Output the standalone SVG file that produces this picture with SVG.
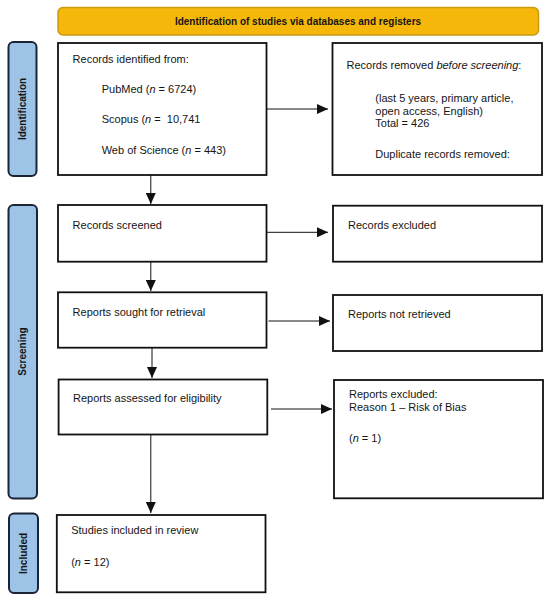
<svg xmlns="http://www.w3.org/2000/svg" width="550" height="600" viewBox="0 0 550 600">
<style>
text{font-family:"Liberation Sans",Arial,Helvetica,sans-serif;fill:#151515}
.t{font-size:11px}
.b{font-size:10px;font-weight:bold}
.box{fill:#fff;stroke:#111;stroke-width:1.8}
.side{fill:#9DC3E6;stroke:#1B2436;stroke-width:2}
.ban{fill:#F5B70A;stroke:#C99A12;stroke-width:1.5}
.c{stroke:#111;stroke-width:1;fill:none;marker-end:url(#ah)}
.i{font-style:italic}
</style>
<defs>
<marker id="ah" markerUnits="userSpaceOnUse" markerWidth="11" markerHeight="10" refX="11" refY="5" orient="auto">
<path d="M0,0 L11,5 L0,10 z" fill="#111"/>
</marker>
</defs>
<rect width="550" height="600" fill="#fff"/>
<g id="banner">
<rect class="ban" x="58" y="7.5" width="480.5" height="27.5" rx="5"/>
<text class="b" x="298" y="25" text-anchor="middle">Identification of studies via databases and registers</text>
</g>
<g id="phase-identification">
<rect class="side" x="8.5" y="42" width="28" height="134" rx="5"/>
<text class="b" transform="translate(26,109) rotate(-90)" text-anchor="middle">Identification</text>
</g>
<g id="phase-screening">
<rect class="side" x="8.5" y="205" width="28.5" height="293.5" rx="5"/>
<text class="b" transform="translate(26,351.5) rotate(-90)" text-anchor="middle">Screening</text>
</g>
<g id="phase-included">
<rect class="side" x="9" y="513.5" width="29" height="79.5" rx="5"/>
<text class="b" transform="translate(27,553.5) rotate(-90)" text-anchor="middle">Included</text>
</g>
<g id="records-identified">
<rect class="box" x="58" y="43" width="208.5" height="132"/>
<text class="t" x="72.6" y="63">Records identified from:</text>
<text class="t" x="101.7" y="93">PubMed (<tspan class="i">n</tspan> = 6724)</text>
<text class="t" x="101.7" y="123" xml:space="preserve">Scopus (<tspan class="i">n</tspan> =  10,741</text>
<text class="t" x="101.7" y="154">Web of Science (<tspan class="i">n</tspan> = 443)</text>
</g>
<g id="records-removed">
<rect class="box" x="332.5" y="43" width="209.5" height="132"/>
<text class="t" x="346.5" y="69">Records removed <tspan class="i">before screening</tspan>:</text>
<text class="t" x="375.3" y="102">(last 5 years, primary article,</text>
<text class="t" x="375.3" y="114.5">open access, English)</text>
<text class="t" x="375.3" y="127">Total = 426</text>
<text class="t" x="375.3" y="158">Duplicate records removed:</text>
</g>
<g id="records-screened">
<rect class="box" x="58" y="205" width="208.5" height="56.7"/>
<text class="t" x="72.6" y="229">Records screened</text>
</g>
<g id="records-excluded">
<rect class="box" x="333" y="205.7" width="209" height="56"/>
<text class="t" x="348" y="229">Records excluded</text>
</g>
<g id="reports-sought">
<rect class="box" x="58" y="292.3" width="208.5" height="55.4"/>
<text class="t" x="72.6" y="315.7">Reports sought for retrieval</text>
</g>
<g id="reports-not-retrieved">
<rect class="box" x="333" y="295" width="209" height="56"/>
<text class="t" x="348" y="318">Reports not retrieved</text>
</g>
<g id="reports-assessed">
<rect class="box" x="58.6" y="379.5" width="208.7" height="55"/>
<text class="t" x="73" y="402">Reports assessed for eligibility</text>
</g>
<g id="reports-excluded">
<rect class="box" x="334" y="380" width="209" height="118.3"/>
<text class="t" x="349" y="397.5">Reports excluded:</text>
<text class="t" x="349" y="411">Reason 1 – Risk of Bias</text>
<text class="t" x="349" y="441.5">(<tspan class="i">n</tspan> = 1)</text>
</g>
<g id="studies-included">
<rect class="box" x="56.8" y="515" width="208.7" height="77.3"/>
<text class="t" x="71.2" y="534">Studies included in review</text>
<text class="t" x="71.2" y="565.5">(<tspan class="i">n</tspan> = 12)</text>
</g>
<g id="connectors">
<line class="c" x1="266.6" y1="109" x2="328" y2="109"/>
<line class="c" x1="150.8" y1="175" x2="150.8" y2="204"/>
<line class="c" x1="266.6" y1="232.3" x2="328" y2="232.3"/>
<line class="c" x1="150.8" y1="261.7" x2="150.8" y2="291"/>
<line class="c" x1="268.5" y1="321" x2="330" y2="321"/>
<line class="c" x1="152" y1="347.7" x2="152" y2="378"/>
<line class="c" x1="271" y1="409" x2="332" y2="409"/>
<line class="c" x1="150.8" y1="434.5" x2="150.8" y2="513"/>
</g>
</svg>
